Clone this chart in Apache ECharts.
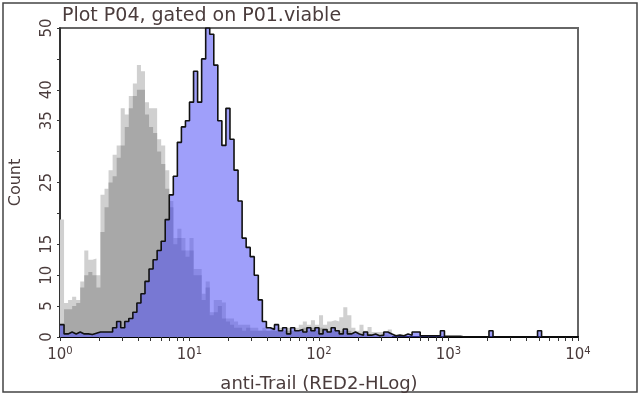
<!DOCTYPE html>
<html>
<head>
<meta charset="utf-8">
<script src="https://cdn.jsdelivr.net/npm/echarts@6/dist/echarts.min.js"></script>
<style>
  html, body { margin: 0; padding: 0; background: #fff; }
  #chart { width: 640px; height: 397px; }
</style>
</head>
<body>
<div id="chart"></div>
<script>
// histogram bins: 128 bins over 4 decades (10^0 .. 10^4), 32 per decade
var binsPerDecade = 32;

// control sample, light gray spikes (envelope)
var grayPeaks = [19,5.5,6,6.5,6,9,14,12.5,12.7,10, 23,24,27,29.5,31,37,36,39,41,44,
  43,38,37,37,32,31,27,22,16,17.5, 16,14,16,11,11,7,9,4,6,6,
  5.6,3,3,2.5,2,2,2,1.5,1.5,1, 1.5,1,1.5,1,1.5,1,1.5,1,1.5,2,
  2.5,2,2.7,2,3.5,2,2.5,2.7,2.5,3.2, 4.8,3.5,1.5,1,2,1,1.6,0.8,0.8,0.8,
  0.8,1.2];
// control sample, body
var grayCounts = [2,4.5,4.5,5,5.5,8,10,10.5,10,8, 17,21,25,26,29,31,34,37,39,40,
  40,36,34,33,30,28,24,21,15,16, 14,13,14,10,10,6,8,3.5,4,5,
  3,2.5,2,1.5,1.5,1,1.5,1,1,1, 1,1,1,1,1,1,1,1,1,1,
  1.5,1,1.5,1,1.5,1,1,1,1,1, 1,1,0.5,0.5,0.5,0.3,0.3,0.3,0.3,0.3,
  0.3,0];
// anti-Trail stained sample
var blueCounts = [2,0.5,0.8,0.5,0.8,0.5,0.5,0.4,0.6,0.8, 0.8,0.8,0.8,1.5,2.5,1.5,2.5,3,4,5.5,
  7,9,11,12.5,14,15.5,19,23,26,31.5, 34,35,38,43,38,45,50,49,44,35,
  31,37,32,27,22,16,14.5,13,10,6, 2.5,1.5,1.2,2,1,1.5,0.5,1.5,1,1.2,
  0.8,1.5,1,1.5,0.5,1.2,0.8,1.5,1,0.5, 1.3,0.5,0.8,0.5,0.3,0.8,0.3,0.5,0.2,0.3,
  0.8,0.5,0.2,0.3,0.2,0.5,0.3,0.8,0.8,0.2, 0.2,0.2,0.2,0.2,1,0.1,0.1,0.1,0.1,0,
  0,0,0,0,0,0,1,0,0,0, 0,0,0,0,0,0,0,0,1,0,
  0,0,0,0,0,0,0,0];

var yLabels = [0, 5, 10, 15, 25, 35, 40, 50];
var xLabelValues = [1, 10, 100, 1000, 10000];
var minorTickValues = [];
for (var d = 0; d < 4; d++) {
  for (var k = 1; k <= 9; k++) minorTickValues.push(k * Math.pow(10, d));
}
minorTickValues.push(10000);

// step data: each bin starts at its left edge, held to the next edge
function toSteps(counts) {
  var out = [];
  for (var i = 0; i < counts.length; i++) {
    out.push([Math.pow(10, i / binsPerDecade), counts[i]]);
  }
  out.push([Math.pow(10, counts.length / binsPerDecade), 0]);
  return out;
}

var textColor = '#4a3c3c';
var font = 'DejaVu Sans';

var myChart = echarts.init(document.getElementById('chart'), null, { renderer: 'canvas' });
myChart.setOption({
  animation: false,
  textStyle: { fontFamily: font },
  title: {
    text: 'Plot P04, gated on P01.viable',
    left: 57,
    top: 2,
    textStyle: { fontSize: 19, fontWeight: 'normal', color: textColor, fontFamily: font }
  },
  graphic: [{
    type: 'rect',
    shape: { x: 3, y: 3, width: 634, height: 389 },
    style: { fill: 'none', stroke: '#444', lineWidth: 1.5 },
    z: -1
  }],
  grid: {
    left: 60, right: 62, top: 28, bottom: 60,
    outerBoundsMode: 'none',
    containLabel: false,
    show: true,
    borderColor: '#666',
    borderWidth: 2
  },
  xAxis: {
    type: 'log',
    logBase: 10,
    min: 1,
    max: 10000,
    name: 'anti-Trail (RED2-HLog)',
    nameLocation: 'middle',
    nameGap: 38,
    nameTextStyle: { fontSize: 18, color: textColor, fontFamily: font },
    axisLine: { lineStyle: { color: '#000', width: 2 } },
    axisTick: { show: true, length: 4, customValues: minorTickValues, lineStyle: { color: '#333' } },
    splitLine: { show: false },
    axisLabel: {
      customValues: xLabelValues,
      margin: 9,
      fontSize: 15,
      color: textColor,
      formatter: function (v) {
        return '10{s|' + Math.round(Math.log10(v)) + '}';
      },
      rich: {
        s: { fontSize: 10, verticalAlign: 'top', padding: [0, 0, 8, 0], color: textColor }
      }
    }
  },
  yAxis: {
    type: 'value',
    min: 0,
    max: 50,
    interval: 5,
    name: 'Count',
    nameLocation: 'middle',
    nameGap: 36,
    nameTextStyle: { fontSize: 16, color: textColor, fontFamily: font },
    axisLine: { show: true, lineStyle: { color: '#222', width: 1.5 } },
    axisTick: { show: true, length: 3, lineStyle: { color: '#333' } },
    splitLine: { show: false },
    axisLabel: {
      rotate: 90,
      margin: 5,
      fontSize: 15,
      color: textColor,
      formatter: function (v) {
        return yLabels.indexOf(v) >= 0 ? String(v) : '';
      }
    }
  },
  series: [
    {
      name: 'control peaks',
      type: 'line',
      step: 'end',
      symbol: 'none',
      data: toSteps(grayPeaks),
      lineStyle: { width: 0 },
      areaStyle: { color: '#d0d0d0', opacity: 1 },
      z: 1
    },
    {
      name: 'control',
      type: 'line',
      step: 'end',
      symbol: 'none',
      data: toSteps(grayCounts),
      lineStyle: { width: 0 },
      areaStyle: { color: '#a8a8a8', opacity: 1 },
      z: 2
    },
    {
      name: 'anti-Trail',
      type: 'line',
      step: 'end',
      symbol: 'none',
      data: toSteps(blueCounts),
      lineStyle: { color: '#111', width: 1.6 },
      areaStyle: { color: 'rgb(80,80,245)', opacity: 0.55 },
      z: 3
    }
  ]
});
</script>
</body>
</html>
